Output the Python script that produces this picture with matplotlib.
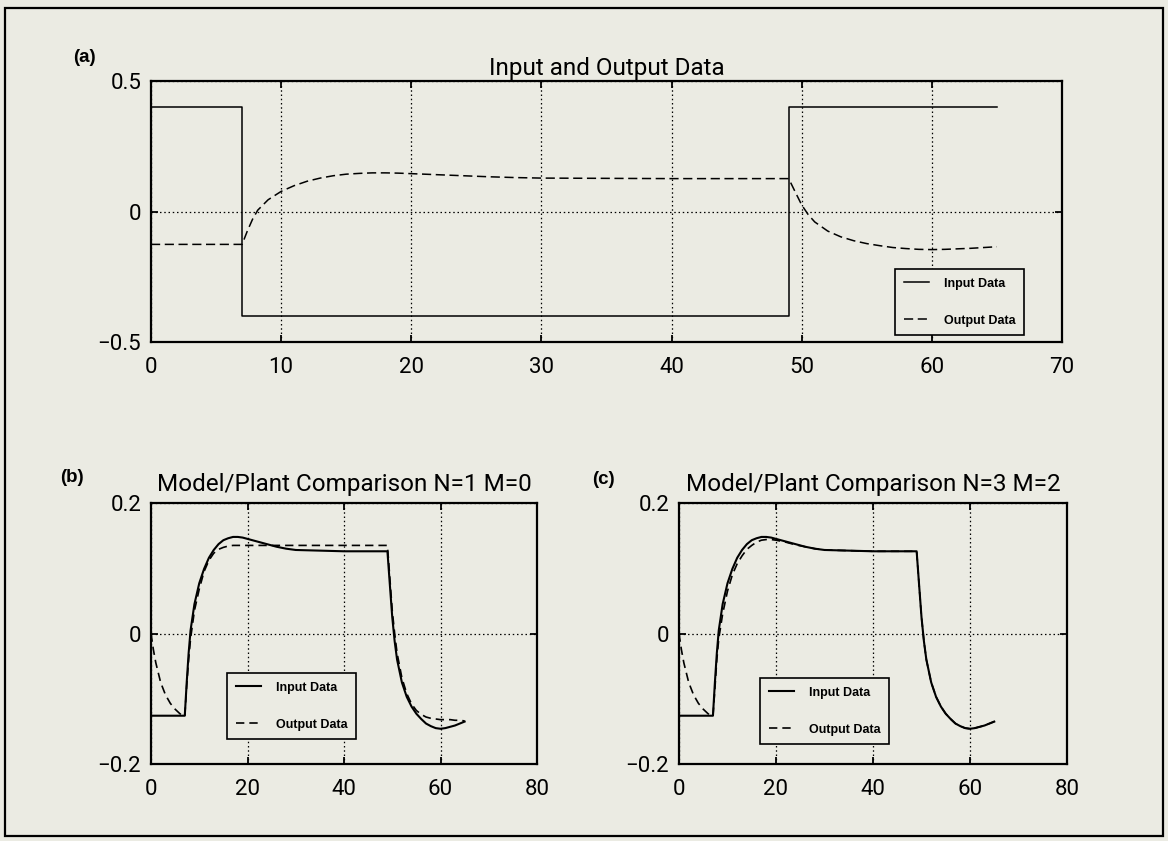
import matplotlib
matplotlib.use('Agg')
import matplotlib.pyplot as plt
from matplotlib.patches import Rectangle

# input step sequence (corner points)
t_in = [0, 7, 7, 49, 49, 65]
u_in = [0.4, 0.4, -0.4, -0.4, 0.4, 0.4]

# sample times shared by the output / model records
t = [0, 0.5, 1, 2, 3, 4, 5, 6, 7,
     7.4, 7.8, 8.2,
     9, 10, 11, 12, 13, 14, 15, 16, 17, 18, 19, 20,
     22, 24, 26, 28, 30,
     35, 40, 45, 49,
     49.5, 50, 50.5,
     51, 52, 53, 54, 55, 56, 57, 58, 59, 60, 61, 62, 63, 64, 65]

# measured plant output
plant = [-0.126, -0.126, -0.126, -0.126, -0.126, -0.126, -0.126, -0.126, -0.126,
         -0.075, -0.030, 0.005,
         0.045, 0.077, 0.099, 0.116, 0.128, 0.137, 0.143, 0.146, 0.148, 0.148, 0.147, 0.145,
         0.141, 0.137, 0.133, 0.130, 0.128,
         0.127, 0.126, 0.126, 0.126,
         0.075, 0.025, -0.012,
         -0.040, -0.075, -0.097, -0.112, -0.123, -0.131, -0.138, -0.142, -0.145, -0.146,
         -0.145, -0.143, -0.141, -0.138, -0.135]

# model N=1 M=0
model_10 = [0.0, -0.025, -0.045, -0.075, -0.094, -0.107, -0.116, -0.123, -0.127,
            -0.080, -0.040, -0.008,
            0.035, 0.068, 0.095, 0.112, 0.123, 0.129, 0.132, 0.134, 0.135, 0.135, 0.135, 0.135,
            0.135, 0.135, 0.135, 0.135, 0.135,
            0.135, 0.135, 0.135, 0.135,
            0.085, 0.035, 0.000,
            -0.030, -0.068, -0.092, -0.108, -0.118, -0.124, -0.128, -0.130, -0.131, -0.132,
            -0.132, -0.132, -0.133, -0.133, -0.134]

# model N=3 M=2
model_32 = [0.0, -0.025, -0.045, -0.075, -0.094, -0.107, -0.116, -0.123, -0.127,
            -0.085, -0.040, -0.008,
            0.030, 0.065, 0.090, 0.107, 0.119, 0.129, 0.135, 0.140, 0.143, 0.144, 0.144, 0.143,
            0.140, 0.136, 0.133, 0.130, 0.128,
            0.127, 0.126, 0.126, 0.126,
            0.075, 0.025, -0.012,
            -0.040, -0.075, -0.097, -0.112, -0.123, -0.131, -0.138, -0.142, -0.145, -0.146,
            -0.145, -0.143, -0.141, -0.138, -0.135]

xticks_a = [0, 10, 20, 30, 40, 50, 60, 70]
yticks_a = [-0.5, 0, 0.5]
ylabels_a = ['\u22120.5', '0', '0.5']
xticks_bc = [0, 20, 40, 60, 80]
yticks_bc = [-0.2, 0, 0.2]
ylabels_bc = ['\u22120.2', '0', '0.2']

titles = ['Input and Output Data',
          'Model/Plant Comparison N=1 M=0',
          'Model/Plant Comparison N=3 M=2']
legend_labels = ['Input Data', 'Output Data']

bg = '#ebebe3'
plt.rcParams['font.family'] = ['Roboto', 'DejaVu Sans']
W, H = 1168, 841

fig = plt.figure(figsize=(W / 100, H / 100), dpi=100, facecolor=bg)


def box(l, t_, r, b):
    return [l / W, 1 - b / H, (r - l) / W, (b - t_) / H]


def style(ax, xt, yt, yl, xlim, ylim, title, pad):
    ax.set_facecolor(bg)
    ax.set_xlim(xlim)
    ax.set_ylim(ylim)
    ax.set_xticks(xt)
    ax.set_xticklabels([str(v) for v in xt])
    ax.set_yticks(yt)
    ax.set_yticklabels(yl)
    ax.tick_params(direction='in', top=True, right=True, length=5, width=1.3,
                   labelsize=16, pad=11, axis='x')
    ax.tick_params(direction='in', top=True, right=True, length=5, width=1.3,
                   labelsize=16, pad=7, axis='y')
    for s in ax.spines.values():
        s.set_linewidth(1.6)
    ax.grid(True, color='black', linestyle=(0, (1.2, 2.2)), linewidth=0.9)
    ax.set_title(title, fontsize=17.5, pad=pad)


def add_legend(ax, anchor):
    leg = ax.legend(legend_labels, loc='upper left', bbox_to_anchor=anchor,
                    frameon=True, fancybox=False, edgecolor='black', facecolor=bg,
                    framealpha=1, borderaxespad=0, labelspacing=2.0, borderpad=0.7,
                    handlelength=2.0, handletextpad=1.2,
                    prop={'family': ['Liberation Sans Narrow', 'Liberation Sans'],
                          'weight': 'bold', 'size': 9})
    leg.get_frame().set_linewidth(1.2)


# (a) input and output record
ax_a = fig.add_axes(box(151, 81, 1062, 342))
ax_a.plot(t_in, u_in, color='black', lw=1.1)
ax_a.plot(t, plant, color='black', lw=1.1, dashes=(6, 3))
style(ax_a, xticks_a, yticks_a, ylabels_a, (0, 70), (-0.5, 0.5), titles[0], 4)
add_legend(ax_a, (0.817, 0.28))

# (b) first order model against plant
ax_b = fig.add_axes(box(151, 503, 537, 764))
ax_b.plot(t, plant, color='black', lw=1.5)
ax_b.plot(t, model_10, color='black', lw=1.2, dashes=(5, 3))
style(ax_b, xticks_bc, yticks_bc, ylabels_bc, (0, 80), (-0.2, 0.2), titles[1], 9)
add_legend(ax_b, (0.197, 0.349))

# (c) third order model against plant
ax_c = fig.add_axes(box(679, 503, 1067, 764))
ax_c.plot(t, plant, color='black', lw=1.5)
ax_c.plot(t, model_32, color='black', lw=1.2, dashes=(5, 3))
style(ax_c, xticks_bc, yticks_bc, ylabels_bc, (0, 80), (-0.2, 0.2), titles[2], 9)
add_legend(ax_c, (0.209, 0.33))

# panel letters
for x, y, s in [(84, 57, '(a)'), (72, 478, '(b)'), (603, 480, '(c)')]:
    fig.text(x / W, 1 - y / H, s, ha='center', va='center', fontsize=13.5,
             fontweight='bold', family=['Liberation Sans', 'DejaVu Sans'])

# outer frame
fig.patches.append(Rectangle((5 / W, 1 - 836 / H), 1158 / W, 828 / H,
                             transform=fig.transFigure, fill=False,
                             edgecolor='black', linewidth=1.6))

fig.savefig('out.png', dpi=100, facecolor=bg)
